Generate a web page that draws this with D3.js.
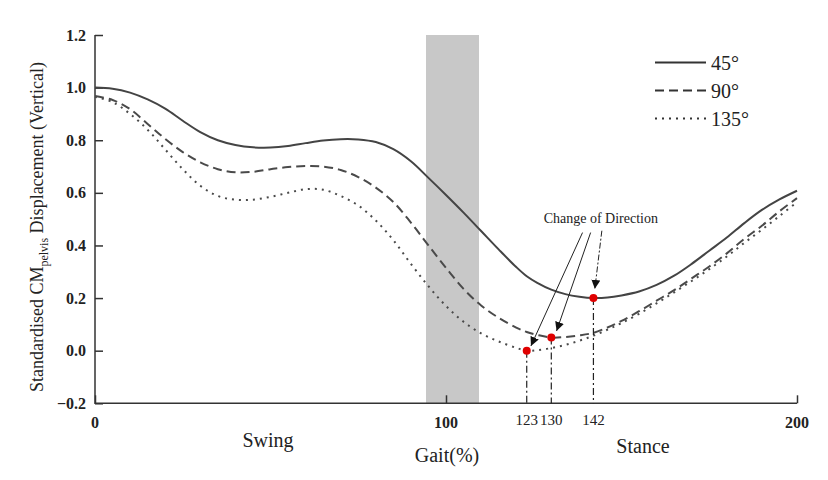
<!doctype html>
<html lang="en">
<head>
<meta charset="utf-8">
<title>CM pelvis displacement</title>
<script src="https://cdn.jsdelivr.net/npm/d3@7"></script>
<style>
  html, body { margin: 0; padding: 0; background: #fff; }
  svg { display: block; font-family: "Liberation Serif", "Times New Roman", serif; }
</style>
</head>
<body>
<svg id="chart" width="828" height="480"></svg>
<script>
// gait cycle positions (%)
var gait = [0,5,10,15,20,25,30,35,40,45,50,55,60,65,70,75,80,85,90,95,100,105,110,115,120,123,126,130,134,138,142,146,150,155,160,165,170,175,180,185,190,195,200];

// standardised vertical CM displacement, one array per angle
var deg45 = [1.000,0.996,0.981,0.955,0.920,0.874,0.831,0.800,0.782,0.773,0.772,0.778,0.789,0.799,0.804,0.803,0.793,0.766,0.720,0.657,0.592,0.525,0.455,0.385,0.318,0.283,0.258,0.232,0.215,0.205,0.200,0.202,0.210,0.225,0.250,0.285,0.330,0.380,0.430,0.485,0.535,0.575,0.608];
var deg90 = [0.968,0.953,0.918,0.862,0.805,0.755,0.716,0.690,0.678,0.680,0.690,0.698,0.702,0.700,0.687,0.660,0.620,0.565,0.487,0.400,0.315,0.235,0.172,0.125,0.088,0.071,0.060,0.050,0.052,0.058,0.068,0.088,0.113,0.150,0.190,0.230,0.275,0.320,0.370,0.425,0.475,0.530,0.580];
var deg135 = [0.965,0.945,0.900,0.840,0.765,0.690,0.627,0.588,0.574,0.574,0.585,0.600,0.614,0.612,0.588,0.552,0.495,0.420,0.330,0.245,0.170,0.110,0.066,0.035,0.011,0.000,0.002,0.010,0.022,0.038,0.057,0.080,0.105,0.140,0.180,0.222,0.265,0.310,0.358,0.410,0.460,0.512,0.565];

var seriesNames = ["45\u00b0", "90\u00b0", "135\u00b0"];
var dashes = [null, "9,5", "2,5"];

// change of direction points
var turnX = [123, 130, 142];
var turnY = [0.00, 0.05, 0.20];

var band = [94.3, 109.4];           // grey shaded region
var yTicks = [-0.2, 0, 0.2, 0.4, 0.6, 0.8, 1.0, 1.2];
var xTicks = [0, 100, 200];

var svg = d3.select("#chart");
var x = d3.scaleLinear().domain([0, 200]).range([95, 797]);
var y = d3.scaleLinear().domain([-0.2, 1.2]).range([403.3, 35]);

// shaded band
svg.append("rect")
  .attr("x", x(band[0])).attr("y", y(1.2))
  .attr("width", x(band[1]) - x(band[0]))
  .attr("height", y(-0.2) - y(1.2))
  .attr("fill", "#c8c8c8");

// axes
var yAxis = d3.axisRight(y).tickValues(yTicks).tickSize(8).tickFormat("");
var gy = svg.append("g").attr("transform", "translate(" + x(0) + ",0)").call(yAxis);
var xAxis = d3.axisTop(x).tickValues(xTicks).tickSize(8).tickFormat("");
var gx = svg.append("g").attr("transform", "translate(0," + y(-0.2) + ")").call(xAxis);
[gy, gx].forEach(function(g) {
  g.select(".domain").remove();
  g.selectAll("line").attr("stroke", "#333").attr("stroke-width", 1.5);
});
svg.append("path")
  .attr("d", "M" + x(0) + "," + y(1.2) + "V" + y(-0.2) + "H" + x(200))
  .attr("fill", "none").attr("stroke", "#333").attr("stroke-width", 1.5);

svg.selectAll(".ylab").data(yTicks).enter().append("text")
  .attr("x", 86).attr("y", function(d) { return y(d) + 5.5; })
  .attr("text-anchor", "end").attr("font-size", 16).attr("font-weight", "bold")
  .attr("fill", "#222")
  .text(function(d) { return d < 0 ? "\u2212" + d3.format(".1f")(-d) : d3.format(".1f")(d); });

svg.selectAll(".xlab").data(xTicks).enter().append("text")
  .attr("x", function(d) { return x(d); }).attr("y", 428)
  .attr("text-anchor", "middle").attr("font-size", 16).attr("font-weight", "bold")
  .attr("fill", "#222")
  .text(function(d) { return d; });

// lines
var line = d3.line().curve(d3.curveCatmullRom.alpha(0.5))
  .x(function(d) { return x(d[0]); }).y(function(d) { return y(d[1]); });
[deg45, deg90, deg135].forEach(function(vals, i) {
  svg.append("path")
    .datum(gait.map(function(g, j) { return [g, vals[j]]; }))
    .attr("d", line)
    .attr("fill", "none")
    .attr("stroke", i == 0 ? "#444" : "#4a4a4a")
    .attr("stroke-width", 2)
    .attr("stroke-dasharray", dashes[i]);
});

// drop lines to axis
turnX.forEach(function(t, i) {
  svg.append("line")
    .attr("x1", x(t)).attr("x2", x(t))
    .attr("y1", y(turnY[i])).attr("y2", y(-0.2))
    .attr("stroke", "#222").attr("stroke-width", 1.2)
    .attr("stroke-dasharray", "7,3,2,3");
  svg.append("text")
    .attr("x", x(t)).attr("y", 425)
    .attr("text-anchor", "middle").attr("font-size", 15)
    .attr("fill", "#222").text(t);
});

// annotation arrows
svg.append("defs").append("marker")
  .attr("id", "arr").attr("viewBox", "0 0 10 10").attr("refX", 10).attr("refY", 5)
  .attr("markerWidth", 9).attr("markerHeight", 9).attr("markerUnits", "userSpaceOnUse")
  .attr("orient", "auto")
  .append("path").attr("d", "M0,0L10,5L0,10z").attr("fill", "#111");

var arrowFrom = [[138.9, 0.449], [141.2, 0.449], [144.4, 0.456]];
var arrowTo = [[124.2, 0.018], [131.5, 0.075], [142.4, 0.235]];
arrowFrom.forEach(function(f, i) {
  svg.append("line")
    .attr("x1", x(f[0])).attr("y1", y(f[1]))
    .attr("x2", x(arrowTo[i][0])).attr("y2", y(arrowTo[i][1]))
    .attr("stroke", "#222").attr("stroke-width", 1)
    .attr("stroke-dasharray", i == 2 ? "6,2,2,2" : null)
    .attr("marker-end", "url(#arr)");
});
svg.append("text")
  .attr("x", x(144.1)).attr("y", y(0.487))
  .attr("text-anchor", "middle").attr("font-size", 14).attr("fill", "#222")
  .text("Change of Direction");

svg.selectAll(".turn").data(turnX).enter().append("circle")
  .attr("cx", function(d) { return x(d); })
  .attr("cy", function(d, i) { return y(turnY[i]); })
  .attr("r", 4).attr("fill", "#e00000");

// legend
seriesNames.forEach(function(n, i) {
  var ly = 62.5 + i * 28;
  svg.append("line").attr("x1", 655).attr("x2", 706).attr("y1", ly).attr("y2", ly)
    .attr("stroke", "#333").attr("stroke-width", 2).attr("stroke-dasharray", dashes[i]);
  svg.append("text").attr("x", 711).attr("y", ly + 7).attr("font-size", 20)
    .attr("fill", "#222").text(n);
});

// axis titles
svg.append("text").attr("x", 268).attr("y", 447).attr("text-anchor", "middle")
  .attr("font-size", 20).attr("fill", "#222").text("Swing");
svg.append("text").attr("x", 643).attr("y", 453).attr("text-anchor", "middle")
  .attr("font-size", 20).attr("fill", "#222").text("Stance");
svg.append("text").attr("x", 447).attr("y", 462).attr("text-anchor", "middle")
  .attr("font-size", 20).attr("fill", "#222").text("Gait(%)");

var yt = svg.append("text")
  .attr("transform", "translate(43,227) rotate(-90)")
  .attr("text-anchor", "middle").attr("font-size", 18).attr("fill", "#222");
yt.append("tspan").text("Standardised CM");
yt.append("tspan").attr("font-size", 12).attr("dy", 5).text("pelvis");
yt.append("tspan").attr("dy", -5).text(" Displacement (Vertical)");
</script>
</body>
</html>
